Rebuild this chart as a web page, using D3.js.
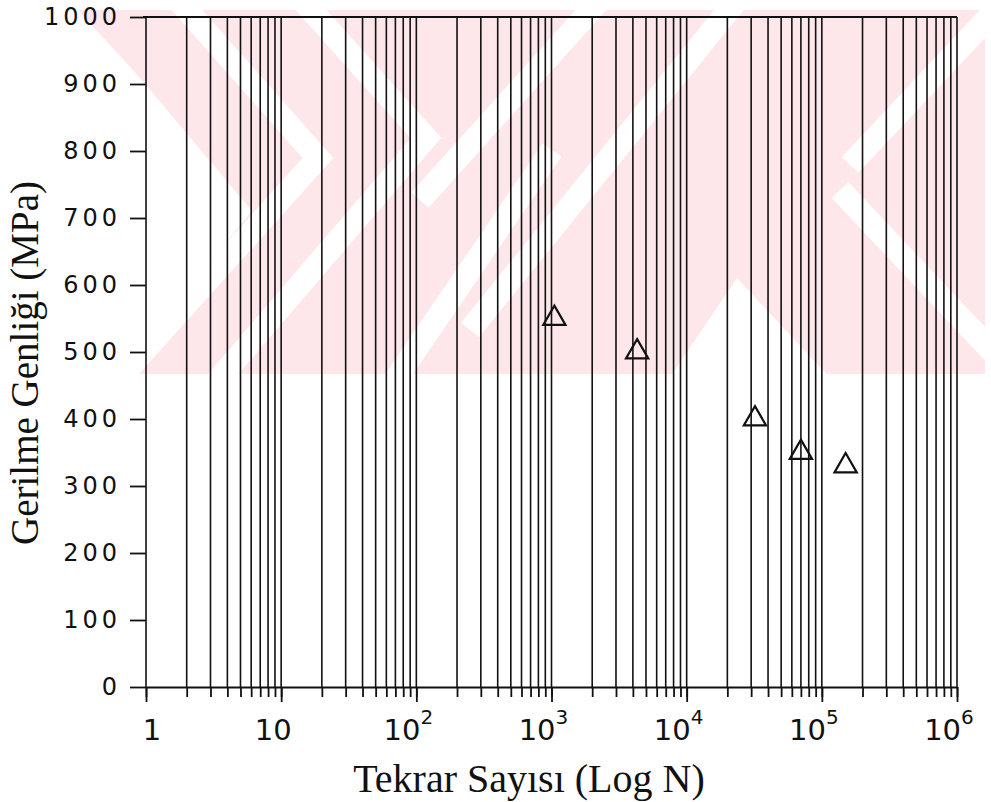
<!DOCTYPE html>
<html lang="en">
<head>
<meta charset="UTF-8" />
<title>Gerilme Genligi - Tekrar Sayisi</title>
<script src="https://d3js.org/d3.v7.min.js"></script>
<style>
    body { margin: 0; background: #fff; }
    .axis path, .axis line { stroke: #111; stroke-width: 1.8; }
    .grid line { stroke: #111; stroke-width: 1.6; }
    .ylab { font-family: "DejaVu Sans", sans-serif; font-size: 24px; letter-spacing: 4px; fill: #111; }
    .xlab { font-family: "DejaVu Sans", sans-serif; font-size: 29px; fill: #111; }
    .title { font-family: "Liberation Serif", "Times New Roman", serif; fill: #111; }
</style>
</head>
<body>
<script>
// measured points (cycles, stress amplitude in MPa)
var cycles = [1050, 4300, 32000, 70000, 150000];
var stress = [550, 500, 400, 350, 330];

var yTicks = [0, 100, 200, 300, 400, 500, 600, 700, 800, 900, 1000];
var xDecades = [1, 10, 100, 1000, 10000, 100000, 1000000];
var xExponents = [0, 1, 2, 3, 4, 5, 6];

var xTitle = "Tekrar Sayısı (Log N)";
var yTitle = "Gerilme Genliği (MPa)";

var w = 991, h = 802;
var padding = { top: 17, bottom: 115, left: 146, right: 34 };

var svg = d3.select("body").append("svg")
    .attr("width", w)
    .attr("height", h);

var x = d3.scaleLog()
    .domain([1, 1e6])
    .range([padding.left, w - padding.right]);

var y = d3.scaleLinear()
    .domain([0, 1000])
    .range([h - padding.bottom, padding.top]);

// faint pink scanned watermark behind the plot (decoration only)
var clip = svg.append("clipPath").attr("id", "wm");
clip.append("polygon").attr("points", "78,10 985,10 985,374 140,374 140,78");

var wm = svg.append("g").attr("clip-path", "url(#wm)");
wm.append("rect").attr("x", 0).attr("y", 0).attr("width", w).attr("height", 400).attr("fill", "#fde7eb");

var line = d3.line();
var whiteStripes = [
    [[178, 0], [318, 158], [100, 400]],
    [[302, 0], [426, 138], [175, 430]],
    [[600, 0], [420, 200]],
    [[737, 0], [470, 330]],
    [[552, 150], [395, 380]],
    [[840, 190], [1005, 365]],
    [[1005, 0], [850, 165]]
];
wm.selectAll("path.ws")
    .data(whiteStripes)
    .enter().append("path")
    .attr("class", "ws")
    .attr("d", line)
    .attr("fill", "none")
    .attr("stroke", "#fff")
    .attr("stroke-width", 23);

wm.append("polygon").attr("points", "140,78 252,211 140,346").attr("fill", "#fff");
wm.append("polygon").attr("points", "737,278 668,380 832,380").attr("fill", "#fff");

// vertical grid at every log tick
var gridVals = x.ticks();
svg.append("g")
    .attr("class", "grid")
    .selectAll("line")
    .data(gridVals)
    .enter().append("line")
    .attr("x1", function (d) { return x(d); })
    .attr("x2", function (d) { return x(d); })
    .attr("y1", y(1000))
    .attr("y2", y(0));

// top border
svg.append("line")
    .attr("x1", x(1) - 3).attr("x2", x(1e6))
    .attr("y1", y(1000)).attr("y2", y(1000))
    .attr("stroke", "#111").attr("stroke-width", 2.2);

// x axis: minor ticks then decade ticks
svg.append("g")
    .attr("class", "axis")
    .attr("transform", "translate(0," + y(0) + ")")
    .call(d3.axisBottom(x).tickValues(gridVals).tickSize(10).tickSizeOuter(0).tickFormat(""));

svg.append("g")
    .attr("class", "axis")
    .attr("transform", "translate(0," + y(0) + ")")
    .call(d3.axisBottom(x).tickValues(xDecades).tickSize(15).tickSizeOuter(0).tickFormat(""))
    .select(".domain").remove();

var xl = svg.append("g").selectAll("text")
    .data(xDecades)
    .enter().append("text")
    .attr("class", "xlab")
    .attr("text-anchor", "middle")
    .attr("x", function (d, i) { return x(d) + (i === 0 ? 6 : -8); })
    .attr("y", 740);

xl.each(function (d, i) {
    var t = d3.select(this);
    var e = xExponents[i];
    if (e === 0) { t.text("1"); return; }
    t.append("tspan").text("10");
    if (e > 1) {
        t.append("tspan").attr("dy", -16).attr("font-size", "20px").text(e);
    }
});

// y axis
var yAxis = svg.append("g")
    .attr("class", "axis")
    .attr("transform", "translate(" + x(1) + ",0)")
    .call(d3.axisLeft(y).tickValues(yTicks).tickSize(16).tickSizeOuter(0).tickPadding(9)
        .tickFormat(d3.format("d")));
yAxis.select(".domain").remove();
yAxis.selectAll("text")
    .attr("class", "ylab")
    .attr("font-size", null)
    .attr("font-family", null);

// data markers
svg.append("g")
    .selectAll("path")
    .data(cycles)
    .enter().append("path")
    .attr("d", d3.symbol().type(d3.symbolTriangle).size(215))
    .attr("transform", function (d, i) { return "translate(" + x(d) + "," + y(stress[i]) + ")"; })
    .attr("fill", "none")
    .attr("stroke", "#111")
    .attr("stroke-width", 2.2);

// titles
svg.append("text")
    .attr("class", "title")
    .attr("font-size", "40px")
    .attr("text-anchor", "middle")
    .attr("x", 529)
    .attr("y", 792)
    .text(xTitle);

svg.append("text")
    .attr("class", "title")
    .attr("font-size", "39px")
    .attr("text-anchor", "middle")
    .attr("transform", "translate(38,363) rotate(-90)")
    .text(yTitle);
</script>
</body>
</html>
